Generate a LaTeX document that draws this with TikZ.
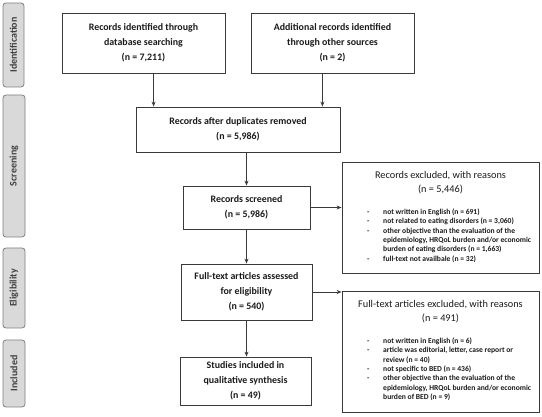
\documentclass[tikz,border=0pt]{standalone}
\usepackage{fontspec}
\setmainfont{Carlito}
\usetikzlibrary{arrows.meta,calc}
\definecolor{lc}{HTML}{3A3A3A}
\definecolor{sbfill}{HTML}{D9D9D9}
\definecolor{sbdraw}{HTML}{7F7F7F}
\definecolor{tc}{HTML}{1A1A1A}
\begin{document}
\begin{tikzpicture}[x=1pt,y=-1pt,
  box/.style={draw=lc, line width=0.8pt, align=center, inner sep=0pt,
    font=\bfseries\fontsize{9.9}{15}\selectfont, text=tc},
  side/.style={draw=sbdraw, fill=sbfill, rounded corners=3pt, line width=0.8pt,
    rotate=90, inner sep=0pt, font=\bfseries\fontsize{10}{12}\selectfont, text=black!75},
  hdr/.style={inner sep=0pt, font=\fontsize{10.3}{12}\selectfont, text=tc},
  items/.style={inner sep=0pt, font=\bfseries\fontsize{7.6}{9.4}\selectfont, text=tc},
  arr/.style={draw=lc, line width=0.9pt, -{Stealth[length=5pt,width=4pt]}}]
\useasboundingbox (0,0) rectangle (542,417);
% side bars
\node[side, minimum width=84pt, minimum height=21pt] (s1) at (13.5,45) {Identification};
\node[side, minimum width=142pt, minimum height=22pt] (s2) at (14,166) {Screening};
\node[side, minimum width=80pt, minimum height=22pt] (s3) at (14,288) {Eligibility};
\node[side, minimum width=67pt, minimum height=22pt] (s4) at (14,373.5) {Included};
% main boxes
\node[box, minimum width=163pt, minimum height=60pt] (b1) at (143.5,43)
  {Records identified through\\database searching\\(n = 7,211)};
\node[box, minimum width=163pt, minimum height=60pt] (b2) at (332.5,43)
  {Additional records identified\\through other sources\\(n = 2)};
\node[box, minimum width=204pt, minimum height=45pt] (b3) at (238,129.5)
  {Records after duplicates removed\\(n = 5,986)};
\node[box, minimum width=127pt, minimum height=43pt] (b4) at (246.5,207.5)
  {Records screened\\(n = 5,986)};
\node[box, minimum width=131pt, minimum height=56pt] (b5) at (246.5,292)
  {Full-text articles assessed\\for eligibility\\(n = 540)};
\node[box, minimum width=131pt, minimum height=48pt] (b6) at (245.5,381)
  {Studies included in\\qualitative synthesis\\(n = 49)};
% exclusion boxes
\node[box, minimum width=197pt, minimum height=111pt] (e1) at (440.5,217.5) {};
\node[box, minimum width=197pt, minimum height=121pt] (e2) at (440.5,351.5) {};
\node[hdr, anchor=base] (e1h) at (440.5,179) {Records excluded, with reasons};
\node[hdr, anchor=base] (e1n) at (440.5,192.5) {(n = 5,446)};
\node[items, anchor=north west] (e1i) at (367,207.5) {%
\begin{tabular}{@{}p{16pt}@{}l@{}}
- & not written in English (n = 691)\\
- & not related to eating disorders (n = 3,060)\\
- & other objective than the evaluation of the\\
  & epidemiology, HRQoL burden and/or economic\\
  & burden of eating disorders (n = 1,663)\\
- & full-text not availbale (n = 32)
\end{tabular}};
\node[hdr, anchor=base] (e2h) at (440.5,308) {Full-text articles excluded, with reasons};
\node[hdr, anchor=base] (e2n) at (440.5,321.5) {(n = 491)};
\node[items, anchor=north west] (e2i) at (367,336.5) {%
\begin{tabular}{@{}p{16pt}@{}l@{}}
- & not written in English (n = 6)\\
- & article was editorial, letter, case report or\\
  & review (n = 40)\\
- & not specific to BED (n = 436)\\
- & other objective than the evaluation of the\\
  & epidemiology, HRQoL burden and/or economic\\
  & burden of BED (n = 9)
\end{tabular}};
% connectors
\coordinate (t1) at ($(b3.north west)+(18,0)$);
\coordinate (t2) at ($(b3.north east)+(-18,0)$);
\draw[arr] (t1 |- b1.south) -- (t1);
\draw[arr] (t2 |- b2.south) -- (t2);
\draw[arr] (b4.north |- b3.south) -- (b4.north);
\draw[arr] (b4.south) -- (b4.south |- b5.north);
\draw[arr] (b5.south) -- (b5.south |- b6.north);
\draw[arr] (b4.east) -- (b4.east -| e1.west);
\draw[arr] (b5.east) -- (b5.east -| e2.west);
\end{tikzpicture}
\end{document}
